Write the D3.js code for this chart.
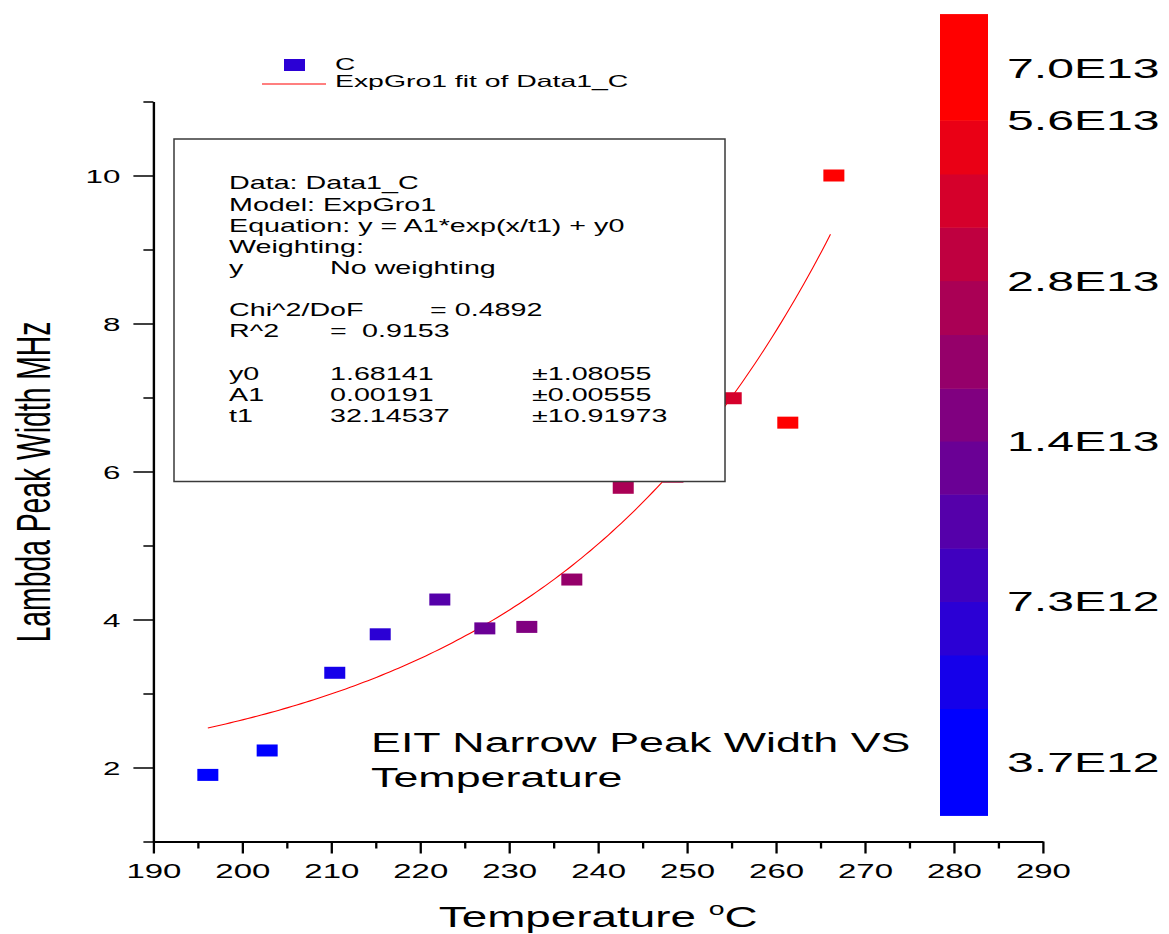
<!DOCTYPE html>
<html>
<head>
<meta charset="utf-8">
<script src="https://cdn.jsdelivr.net/npm/d3@7"></script>
<style>
  html, body { margin: 0; padding: 0; background: #fff; }
  svg { display: block; }
  text { font-family: "Liberation Sans", Arial, Helvetica, sans-serif; fill: #000; }
</style>
</head>
<body>
<script>
// Measured peak widths vs. temperature, coloured by density
const temps     = [196.12, 202.79, 210.39, 215.5, 222.2, 227.26, 231.98, 237.04, 242.82, 248.41, 254.96, 261.32, 266.5];
const widths    = [1.90, 2.23, 3.28, 3.80, 4.27, 3.88, 3.90, 4.54, 5.78, 5.93, 6.99, 6.66, 10.0];
const densities = [4.0e12, 4.3e12, 5.2e12, 6.5e12, 1.0e13, 1.3e13, 1.6e13, 2.0e13, 2.5e13, 3.2e13, 4.0e13, 6.4e13, 6.8e13];

// Colour-map levels (log spaced) and the labelled ones
const levels = [3.7e12, 4.64e12, 5.82e12, 7.3e12, 9.15e12, 1.15e13, 1.44e13, 1.8e13, 2.26e13, 2.84e13, 3.56e13, 4.46e13, 5.6e13, 7.0e13];
const levelTicks = [3.7e12, 7.3e12, 1.44e13, 2.84e13, 5.6e13, 7.0e13];

// Axis ticks
const xMajor = [190, 200, 210, 220, 230, 240, 250, 260, 270, 280, 290];
const xMinor = [195, 205, 215, 225, 235, 245, 255, 265, 275, 285];
const yMajor = [2, 4, 6, 8, 10];
const yMinor = [1, 3, 5, 7, 9, 11];

// ExpGro1 fit result
const fitParams = { y0: 1.68141, A1: 0.00191, t1: 32.14537 };
const fitErrors = { y0: 1.08055, A1: 0.00555, t1: 10.91973 };
const fitStats  = { chi2dof: 0.4892, r2: 0.9153 };

const W = 1169, H = 934;
const svg = d3.select("body").append("svg").attr("width", W).attr("height", H);
svg.append("rect").attr("width", W).attr("height", H).attr("fill", "#fff");

const x = d3.scaleLinear().domain([190, 290]).range([153.4, 1042.9]);
const y = d3.scaleLinear().domain([1, 11]).range([841.5, 101.5]);

// colours: 13 steps from blue to red
const bandColors = d3.range(13).map(i => d3.interpolateRgb("#0000ff", "#ff0000")(i / 12));
const color = d3.scaleThreshold().domain(levels.slice(1, 13)).range(bandColors);

// stretched text helper
function stext(g, px, py, str, size, sx, anchor) {
  return g.append("text")
    .attr("transform", `translate(${px},${py}) scale(${sx},1)`)
    .attr("font-size", size)
    .attr("text-anchor", anchor || "start")
    .text(str);
}

// ---- fit curve ----
const xs = d3.range(d3.min(temps), d3.max(temps) + 0.01, 0.5);
const fitLine = d3.line()
  .x(d => x(d))
  .y(d => y(fitParams.A1 * Math.exp(d / fitParams.t1) + fitParams.y0));
svg.append("path").datum(xs).attr("d", fitLine)
  .attr("fill", "none").attr("stroke", "#ff0000").attr("stroke-width", 1.1);

// ---- data points ----
const pts = temps.map((t, i) => ({ t, w: widths[i], d: densities[i] }));
svg.append("g").selectAll("rect").data(pts).join("rect")
  .attr("x", d => x(d.t) - 10.5)
  .attr("y", d => y(d.w) - 6)
  .attr("width", 21).attr("height", 12)
  .attr("fill", d => color(d.d));

// ---- fit report box ----
const box = svg.append("g");
box.append("rect").attr("x", 174).attr("y", 139).attr("width", 551).attr("height", 342.5)
  .attr("fill", "#fff").attr("stroke", "#3a3a3a").attr("stroke-width", 1.5);
const bfs = 17.5, bsx = 1.64;
const c1 = 229, c2 = 330, c3 = 532;
const rowY = [189.3, 210.6, 231.8, 253, 274.2, 316, 337.2, 379.6, 400.8, 422];
stext(box, c1, rowY[0], "Data: Data1_C", bfs, bsx);
stext(box, c1, rowY[1], "Model: ExpGro1", bfs, bsx);
stext(box, c1, rowY[2], "Equation: y = A1*exp(x/t1) + y0", bfs, bsx);
stext(box, c1, rowY[3], "Weighting:", bfs, bsx);
stext(box, c1, rowY[4], "y", bfs, bsx);
stext(box, c2, rowY[4], "No weighting", bfs, bsx);
stext(box, c1, rowY[5], "Chi^2/DoF", bfs, bsx);
stext(box, 430, rowY[5], "= " + fitStats.chi2dof.toFixed(4), bfs, bsx);
stext(box, c1, rowY[6], "R^2", bfs, bsx);
stext(box, c2, rowY[6], "=", bfs, bsx);
stext(box, 362, rowY[6], fitStats.r2.toFixed(4), bfs, bsx);
["y0", "A1", "t1"].forEach((k, i) => {
  stext(box, c1, rowY[7 + i], k, bfs, bsx);
  stext(box, c2, rowY[7 + i], fitParams[k].toFixed(5), bfs, bsx);
  stext(box, c3, rowY[7 + i], "\u00B1" + fitErrors[k].toFixed(5), bfs, bsx);
});

// ---- axes ----
const yAxisG = svg.append("g").attr("transform", `translate(${x(190)},0)`);
yAxisG.call(d3.axisLeft(y).tickValues(yMajor).tickSize(20).tickSizeOuter(0).tickPadding(13));
yAxisG.append("g").call(d3.axisLeft(y).tickValues(yMinor).tickSize(10).tickFormat("").tickSizeOuter(0))
  .select(".domain").remove();
yAxisG.selectAll(".domain").attr("stroke", "#000").attr("stroke-width", 2.4);
yAxisG.selectAll(".tick line").attr("stroke", "#000").attr("stroke-width", 1.5);
yAxisG.selectAll(".tick text")
  .attr("x", null).attr("dy", null)
  .attr("font-size", 18).attr("font-family", null)
  .attr("transform", "translate(-33,6.5) scale(1.74,1)");

const xAxisG = svg.append("g").attr("transform", `translate(0,${y(1)})`);
xAxisG.call(d3.axisBottom(x).tickValues(xMajor).tickSize(12).tickSizeOuter(0));
xAxisG.append("g").call(d3.axisBottom(x).tickValues(xMinor).tickSize(7).tickFormat("").tickSizeOuter(0))
  .select(".domain").remove();
xAxisG.selectAll(".domain").attr("stroke", "#000").attr("stroke-width", 2);
xAxisG.selectAll(".tick line").attr("stroke", "#000").attr("stroke-width", 2.3);
xAxisG.selectAll(".tick text")
  .attr("y", null).attr("dy", null)
  .attr("font-size", 20).attr("font-family", null)
  .attr("transform", "translate(0,36.5) scale(1.65,1)");

// axis titles
const xt = svg.append("text")
  .attr("transform", `translate(${(x(190) + x(290)) / 2},927) scale(1.58,1)`)
  .attr("font-size", 29).attr("text-anchor", "middle");
xt.append("tspan").text("Temperature ");
xt.append("tspan").attr("font-size", 18).attr("dy", -12).text("o");
xt.append("tspan").attr("dy", 12).text("C");

svg.append("text")
  .attr("transform", "translate(50,482) scale(1.67,1) rotate(-90)")
  .attr("font-size", 28.3).attr("text-anchor", "middle")
  .text("Lambda Peak Width MHz");

// chart title inside the plot
stext(svg, 371, 752, "EIT Narrow Peak Width VS", 27, 1.66);
stext(svg, 371, 786.5, "Temperature", 27, 1.66);

// ---- legend ----
svg.append("rect").attr("x", 284).attr("y", 59).attr("width", 21).attr("height", 12)
  .attr("fill", bandColors[2]);
stext(svg, 335, 70, "C", 16.5, 1.7);
svg.append("line").attr("x1", 262).attr("x2", 326).attr("y1", 84).attr("y2", 84)
  .attr("stroke", "#ff0000").attr("stroke-width", 1.1);
stext(svg, 335, 87, "ExpGro1 fit of Data1_C", 16.5, 1.72);

// ---- colour bar ----
const cbY = d3.scaleLog().domain([levels[0], levels[levels.length - 1]]).range([762, 67.5]);
const bandH = (cbY(levels[0]) - cbY(levels[levels.length - 1])) / (levels.length - 1);
const cb = svg.append("g");
const bands = [];
bands.push({ y0: cbY(levels[0]) + bandH, y1: cbY(levels[0]), c: bandColors[0] });
for (let i = 0; i < levels.length - 1; i++) {
  bands.push({ y0: cbY(levels[i]), y1: cbY(levels[i + 1]), c: bandColors[i] });
}
bands.push({ y0: cbY(levels[levels.length - 1]), y1: cbY(levels[levels.length - 1]) - bandH, c: bandColors[12] });
cb.selectAll("rect").data(bands).join("rect")
  .attr("x", 940).attr("width", 48)
  .attr("y", d => d.y1).attr("height", d => d.y0 - d.y1 + 0.5)
  .attr("fill", d => d.c);
const fmtE = v => v.toExponential(1).toUpperCase().replace("E+", "E");
levelTicks.forEach(v => {
  stext(cb, 1007, cbY(v) + 10, fmtE(v), 28, 1.72);
});
</script>
</body>
</html>
